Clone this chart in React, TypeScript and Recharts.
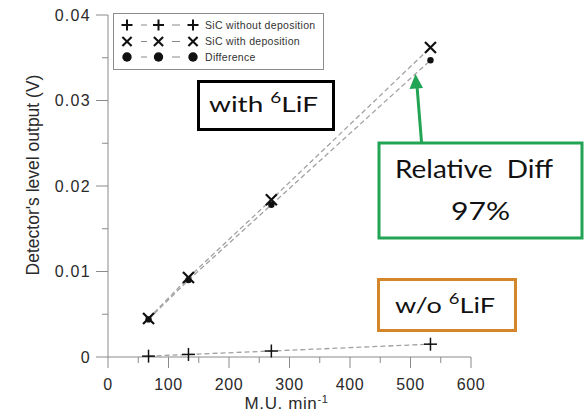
import React from 'react';
import { LineChart, Line, XAxis, YAxis, Legend } from 'recharts';

// ---- data ----
const muPerMin = [67, 133, 270, 533];
const sicWithoutDeposition = [0.0001, 0.0003, 0.0007, 0.0015];
const sicWithDeposition = [0.0045, 0.0093, 0.0184, 0.0362];
const differenceValues = [0.0044, 0.009, 0.0178, 0.0347];

const xTicks = [0, 50, 100, 150, 200, 250, 300, 350, 400, 450, 500, 550, 600];
const yTicks = [0, 0.005, 0.01, 0.015, 0.02, 0.025, 0.03, 0.035, 0.04];

const seriesNames = ['SiC without deposition', 'SiC with deposition', 'Difference'];

const toPoints = (ys: number[]) => muPerMin.map((x, i) => ({ x, y: ys[i] }));
const withoutData = toPoints(sicWithoutDeposition);
const withData = toPoints(sicWithDeposition);
const diffData = toPoints(differenceValues);

const AXIS = '#8a8a8a';
const TXT = '#2a2a2a';
const SANS = '"Liberation Sans", Arial, sans-serif';
const CAL = 'Lato, "Open Sans", sans-serif';
const GREEN = '#22a455';
const ORANGE = '#d4862b';

const PlusMark = ({ cx, cy, h = 6.5, w = 1.5 }: any) => (
  <g>
    <line x1={cx - h} y1={cy} x2={cx + h} y2={cy} stroke="#111" strokeWidth={w} />
    <line x1={cx} y1={cy - h} x2={cx} y2={cy + h} stroke="#111" strokeWidth={w} />
  </g>
);
const CrossMark = ({ cx, cy, h = 5.5, w = 2.2 }: any) => (
  <g>
    <line x1={cx - h} y1={cy - h} x2={cx + h} y2={cy + h} stroke="#111" strokeWidth={w} />
    <line x1={cx - h} y1={cy + h} x2={cx + h} y2={cy - h} stroke="#111" strokeWidth={w} />
  </g>
);
const DotMark = ({ cx, cy, r = 3.2 }: any) => <circle cx={cx} cy={cy} r={r} fill="#111" />;

const XTick = (props: any) => {
  const { x, y, payload } = props;
  const v = payload.value;
  const major = v % 100 === 0;
  return (
    <g>
      <line x1={x} y1={y} x2={x} y2={y + (major ? 11 : 6)} stroke={AXIS} strokeWidth={1} />
      {major && (
        <text x={x} y={y + 33} textAnchor="middle" fontSize={16} letterSpacing={0.6} fontFamily={SANS} fill={TXT}>
          {String(v)}
        </text>
      )}
    </g>
  );
};

const YTick = (props: any) => {
  const { x, y, payload } = props;
  const v = payload.value;
  const major = Math.round(v / 0.005) % 2 === 0;
  return (
    <g>
      <line x1={x - (major ? 12 : 6)} y1={y} x2={x} y2={y} stroke={AXIS} strokeWidth={1} />
      {major && (
        <text x={x - 17} y={y} dy="0.36em" textAnchor="end" fontSize={16} letterSpacing={1.3} fontFamily={SANS} fill={TXT}>
          {v === 0 ? '0' : v.toFixed(2)}
        </text>
      )}
    </g>
  );
};

const LegendBox = () => {
  const rows = [12, 28.5, 44];
  const xs = [14, 45.5, 80];
  const marks = [PlusMark, CrossMark, DotMark];
  const sizes = [{ h: 5.5, w: 2 }, { h: 4.6, w: 2.1 }, { r: 4.7 }];
  return (
    <svg width={212} height={58} style={{ display: 'block' }}>
      <rect x={0.5} y={0.5} width={210} height={56} fill="#fff" stroke="#8c8c8c" strokeWidth={1} />
      {rows.map((ry, i) => {
        const M = marks[i];
        return (
          <g key={i}>
            <line x1={28} y1={ry} x2={34} y2={ry} stroke="#888" strokeWidth={1} />
            <line x1={59} y1={ry} x2={67} y2={ry} stroke="#888" strokeWidth={1} />
            {xs.map((mx, j) => (
              <M key={j} cx={mx} cy={ry} {...sizes[i]} />
            ))}
            <text x={92} y={ry} dy="0.35em" fontSize={10.5} letterSpacing={0.3} fontFamily={SANS} fill="#333">
              {seriesNames[i]}
            </text>
          </g>
        );
      })}
    </svg>
  );
};

const mkDot = (Mark: any) => (p: any) => <Mark key={`m-${p.index}`} cx={p.cx} cy={p.cy} />;

const YLabel = (props: any) => {
  const { viewBox } = props;
  const cx = 33;
  const cy = viewBox.y + viewBox.height / 2 - 11;
  return (
    <text
      x={cx}
      y={cy}
      transform={`rotate(-90 ${cx} ${cy})`}
      textAnchor="middle"
      dy="0.35em"
      fontSize={17.5}
      fontFamily={SANS}
      fill={TXT}
    >
      Detector's level output (V)
    </text>
  );
};

const XLabel = (props: any) => {
  const { viewBox } = props;
  const cx = viewBox.x + viewBox.width / 2 - 3;
  return (
    <text x={cx} y={viewBox.y + 52} textAnchor="middle" fontSize={17} letterSpacing={0.6} fontFamily={SANS} fill={TXT}>
      M.U. min
      <tspan dy={-6} fontSize={11}>-1</tspan>
    </text>
  );
};

export default function App() {
  return (
    <div style={{ position: 'absolute', left: 0, top: 0, width: 586, height: 417, background: '#fff' }}>
      <LineChart width={586} height={417} margin={{ top: 15, right: 115, bottom: 0, left: 0 }}>
        <XAxis
          type="number"
          dataKey="x"
          domain={[0, 600]}
          ticks={xTicks}
          interval={0}
          height={60}
          tickSize={0}
          tickMargin={0}
          tickLine={false}
          stroke={AXIS}
          tick={<XTick />}
          label={<XLabel />}
        />
        <YAxis
          type="number"
          dataKey="y"
          domain={[0, 0.04]}
          ticks={yTicks}
          interval={0}
          width={108}
          tickSize={0}
          tickMargin={0}
          tickLine={false}
          stroke={AXIS}
          tick={<YTick />}
          label={<YLabel />}
        />
        <Legend
          layout="vertical"
          verticalAlign="middle"
          align="center"
          wrapperStyle={{ left: 113, top: 13, width: 212, height: 58 }}
          content={() => <LegendBox />}
        />
        <Line
          data={withoutData}
          dataKey="y"
          name={seriesNames[0]}
          stroke="#a2a2a2"
          strokeWidth={1.3}
          strokeDasharray="5 3"
          dot={mkDot(PlusMark)}
          isAnimationActive={false}
        />
        <Line
          data={withData}
          dataKey="y"
          name={seriesNames[1]}
          stroke="#a2a2a2"
          strokeWidth={1.3}
          strokeDasharray="5 3"
          dot={mkDot(CrossMark)}
          isAnimationActive={false}
        />
        <Line
          data={diffData}
          dataKey="y"
          name={seriesNames[2]}
          stroke="#a2a2a2"
          strokeWidth={1.3}
          strokeDasharray="5 3"
          dot={mkDot(DotMark)}
          isAnimationActive={false}
        />
      </LineChart>
      <svg
        width={586}
        height={417}
        style={{ position: 'absolute', left: 0, top: 0, pointerEvents: 'none' }}
      >
        {/* with 6LiF */}
        <rect x={198.5} y={81.5} width={135} height={48} fill="#fff" stroke="#000" strokeWidth={3} />
        <text x={209} y={112} fontSize={22} fontFamily={CAL} fill="#111" textLength={109} lengthAdjust="spacingAndGlyphs">
          {'with '}
          <tspan dy={-9} fontSize={15}>6</tspan>
          <tspan dy={9} fontSize={22}>LiF</tspan>
        </text>
        {/* arrow */}
        <line x1={421.5} y1={142} x2={417} y2={86} stroke={GREEN} strokeWidth={3} />
        <polygon points="415.5,74 409.5,89 423,88" fill={GREEN} />
        {/* Relative Diff */}
        <rect x={379} y={143} width={203} height={95} fill="#fff" stroke={GREEN} strokeWidth={3} />
        <text x={395} y={178} fontSize={25} fontFamily={CAL} fill="#111" textLength={158} lengthAdjust="spacingAndGlyphs" style={{ whiteSpace: 'pre' }}>
          {'Relative  Diff'}
        </text>
        <text x={451} y={220} fontSize={25} fontFamily={CAL} fill="#111" textLength={59} lengthAdjust="spacingAndGlyphs">
          97%
        </text>
        {/* w/o 6LiF */}
        <rect x={378.5} y={279.5} width={137} height={51} fill="#fff" stroke={ORANGE} strokeWidth={3} />
        <text x={395} y={313} fontSize={22} fontFamily={CAL} fill="#111" textLength={100} lengthAdjust="spacingAndGlyphs">
          {'w/o '}
          <tspan dy={-9} fontSize={15}>6</tspan>
          <tspan dy={9} fontSize={22}>LiF</tspan>
        </text>
      </svg>
    </div>
  );
}
